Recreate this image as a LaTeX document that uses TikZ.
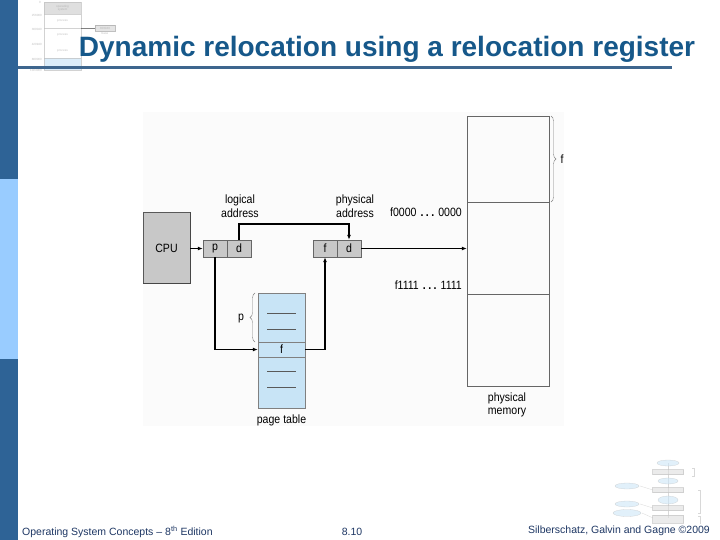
\documentclass[tikz,border=0pt]{standalone}
\usepackage{fontspec}
\setmainfont{Liberation Sans}
\newfontfamily\narrowfont{Liberation Sans}[FakeStretch=0.88]
\usetikzlibrary{decorations.pathreplacing,arrows.meta,shapes.geometric}
\definecolor{barDark}{RGB}{46,99,150}
\definecolor{barLight}{RGB}{153,204,255}
\definecolor{titleBlue}{RGB}{22,88,138}
\definecolor{ruleBlue}{RGB}{62,102,142}
\definecolor{cellGray}{RGB}{200,200,200}
\definecolor{ptBlue}{RGB}{200,228,246}
\definecolor{footBlue}{RGB}{30,55,100}
\definecolor{thumbBlue}{RGB}{205,230,248}
\begin{document}
\begin{tikzpicture}[x=1pt,y=-1pt,
  cell/.style={draw=gray!80!black, fill=cellGray, minimum width=24pt, minimum height=17pt, inner sep=0pt, font=\narrowfont\fontsize{12}{14}\selectfont},
  lbl/.style={font=\narrowfont\fontsize{12}{13.5}\selectfont, align=center, inner sep=0pt},
  conn/.style={line width=1.3pt},
  tip/.style={-{Latex[length=5pt,width=4pt]}},
  memsec/.style={draw=gray!80!black, minimum width=82pt, inner sep=0pt},
  tiny/.style={font=\fontsize{3}{3.5}\selectfont, text=gray!70, inner sep=0pt, align=center},
  thumb/.style={draw=gray!50, line width=0.3pt},
  foot/.style={font=\fontsize{10.5}{12}\selectfont, text=footBlue, inner sep=0pt}
]
\useasboundingbox (0,0) rectangle (720,540);
\fill[white] (0,0) rectangle (720,540);
% left bar
\fill[barDark] (0,0) rectangle (18,179);
\fill[barLight] (0,179) rectangle (18,359);
\fill[barDark] (0,359) rectangle (18,540);

% top-left thumbnail (faint)
\begin{scope}[opacity=0.7]
\fill[gray!35] (44,2) rectangle (81,14);
\fill[thumbBlue] (44,58) rectangle (81,70);
\draw[thumb] (44,2) rectangle (81,70);
\draw[thumb] (44,14) -- (81,14) (44,58) -- (81,58);
\draw[thumb] (44,28) -- (81,28);
\draw[black!70, line width=0.5pt] (81,28) -- (95,28);
\node[tiny] (os) at (62.5,8) {operating\\system};
\node[tiny] (pr1) at (62.5,21) {process};
\node[tiny] (pr2) at (62.5,35) {process};
\node[tiny] (pr3) at (62.5,51) {process};
\node[tiny] (t0) at (40,2) {0};
\node[tiny, anchor=east] (t1) at (42,15) {256000};
\node[tiny, anchor=east] (t2) at (42,29) {300040};
\node[tiny, anchor=east] (t3) at (42,44) {420940};
\node[tiny, anchor=east] (t4) at (42,59) {880000};
\node[tiny, anchor=east] (t5) at (42,70) {1024000};
\node[tiny, draw=gray!70, fill=gray!30, minimum width=20pt, minimum height=6pt] (basebox) at (105,28) {300040};
\node[tiny] (basel) at (105,33.5) {base};
\end{scope}

% title
\node[font=\fontsize{28}{32}\selectfont\bfseries, text=titleBlue, anchor=base, inner sep=0pt] (title) at (387,57) {Dynamic relocation using a relocation register};
\draw[ruleBlue, line width=3pt] (18,67.5) -- (672,67.5);

% figure background
\fill[gray!3] (143,112) rectangle (564,426);

% CPU
\node[draw=gray!70!black, fill=cellGray, minimum width=47pt, minimum height=71pt, inner sep=0pt, font=\narrowfont\fontsize{12}{14}\selectfont] (cpu) at (166.5,248) {CPU};
\draw[gray!55!black, line width=1pt] (cpu.north east) -- (cpu.south east) -- (cpu.south west);

% logical address
\node[cell] (p) at (215,248.5) {p};
\node[cell] (d1) at (239,248.5) {d};
\node[lbl] (la) at (240,206) {logical\\address};

% physical address
\node[cell] (f2) at (325,248.5) {f};
\node[cell] (d2) at (349,248.5) {d};
\node[lbl] (pa) at (355,206) {physical\\address};

% page table
\node[draw=gray, fill=ptBlue, minimum width=47pt, minimum height=115pt, inner sep=0pt] (pt) at (281.5,350.5) {};
\node[draw=gray, minimum width=47pt, minimum height=15pt, inner sep=0pt, font=\narrowfont\fontsize{12}{14}\selectfont] (ptf) at (281.5,349.5) {f};
\draw[gray!70!black, line width=0.6pt] (267,313) -- (296,313) (267,329) -- (296,329) (267,371) -- (296,371) (267,387) -- (296,387);
\draw[gray, decorate, decoration={brace, amplitude=5pt}] (255,342) -- (255,293);
\node[lbl] (plab) at (241,319) {p};
\node[lbl] (ptl) at (281.5,420) {page table};

% physical memory
\node[memsec, minimum height=86pt] (m1) at (508,159) {};
\node[memsec, minimum height=92pt] (m2) at (508,248) {};
\node[memsec, minimum height=92pt] (m3) at (508,340) {};
\draw[gray, decorate, decoration={brace, amplitude=5pt}] (551,116) -- (551,202);
\node[lbl] (flab) at (562,159) {f};
\node[lbl, anchor=east] (a0) at (462,212) {f0000\hspace{4pt}\textbf{.\hspace{2.5pt}.\hspace{2.5pt}.}\hspace{4pt}0000};
\node[lbl, anchor=east] (a1) at (462,285) {f1111\hspace{4pt}\textbf{.\hspace{2.5pt}.\hspace{2.5pt}.}\hspace{4pt}1111};
\node[lbl] (pm) at (507,405) {physical\\memory};

% connectors
\coordinate (topy) at (300,224);
\draw[conn,tip] (cpu.east |- p.west) -- (p.west);
\draw[conn,tip] (d1.north) -- (d1.north |- topy) -- (d2.north |- topy) -- (d2.north);
\draw[conn,tip] (p.south) |- (ptf.west);
\draw[conn,tip] (ptf.east) -| (f2.south);
\draw[line width=1pt,tip] (d2.east) -- (d2.east -| m2.west);

% bottom-right thumbnail (faint)
\begin{scope}[opacity=0.6]
\draw[thumb] (668,463) -- (668,518);
\draw[thumb] (640,486) -- (653,490) (640,504) -- (653,508) (642,513) -- (653,518);
\node[thumb, fill=thumbBlue, ellipse, minimum width=22pt, minimum height=6pt, inner sep=0pt] (e1) at (668,463) {};
\node[thumb, fill=gray!25, minimum width=31pt, minimum height=5pt, inner sep=0pt] (b1) at (668,472) {};
\node[thumb, fill=thumbBlue, ellipse, minimum width=20pt, minimum height=6pt, inner sep=0pt] (e2) at (668,481) {};
\node[thumb, fill=gray!25, minimum width=31pt, minimum height=5pt, inner sep=0pt] (b2) at (668,490) {};
\node[thumb, fill=thumbBlue, ellipse, minimum width=20pt, minimum height=8pt, inner sep=0pt] (e3) at (668,500) {};
\node[thumb, fill=gray!25, minimum width=31pt, minimum height=5pt, inner sep=0pt] (b3) at (668,508) {};
\node[thumb, fill=gray!25, minimum width=31pt, minimum height=8pt, inner sep=0pt] (b4) at (668,519) {};
\node[thumb, fill=thumbBlue, ellipse, minimum width=24pt, minimum height=6pt, inner sep=0pt] (l1) at (627,486) {};
\node[thumb, fill=thumbBlue, ellipse, minimum width=24pt, minimum height=6pt, inner sep=0pt] (l2) at (627,504) {};
\node[thumb, fill=thumbBlue, ellipse, minimum width=28pt, minimum height=7pt, inner sep=0pt] (l3) at (627,513) {};
\draw[thumb] (692,468) -- (694,468) -- (694,476) -- (692,476);
\draw[thumb] (698,490) -- (700,490) -- (700,513) -- (698,513);
\draw[thumb] (698,516) -- (700,516) -- (700,524);
\end{scope}

% footer
\node[foot, anchor=base west] (f1) at (22,535) {Operating System Concepts – 8\textsuperscript{th} Edition};
\node[foot, anchor=base] (f2n) at (352,535) {8.10};
\node[foot, anchor=base east] (f3) at (710,533) {Silberschatz, Galvin and Gagne ©2009};
\end{tikzpicture}
\end{document}
